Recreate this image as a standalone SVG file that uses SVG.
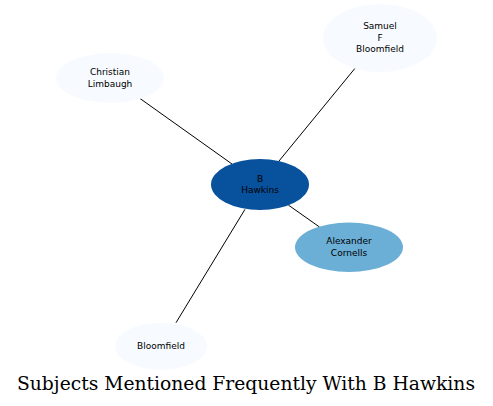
<svg xmlns="http://www.w3.org/2000/svg" width="493" height="406" viewBox="0 0 493 406">
<style>
.n text{font-family:"DejaVu Sans",sans-serif;font-size:9px;fill:#000;text-anchor:middle}
.e line{stroke:#000;stroke-width:1}
.title{font-family:"DejaVu Serif",serif;font-size:18px;fill:#000;text-anchor:middle}
</style>
<rect width="493" height="406" fill="#fff"/>
<g class="e" id="edges">
<line x1="140" y1="98.5" x2="232" y2="164"/>
<line x1="355" y1="68.3" x2="279" y2="161"/>
<line x1="288.3" y1="205" x2="319.5" y2="227"/>
<line x1="245" y1="209.3" x2="176" y2="322.7"/>
</g>
<g class="n" id="node-hawkins">
<ellipse cx="260" cy="184.5" rx="49" ry="25.5" fill="#08519c"/>
<text x="260" y="181.5">B</text>
<text x="260" y="193">Hawkins</text>
</g>
<g class="n" id="node-samuel">
<ellipse cx="380" cy="38" rx="57" ry="34" fill="#f7fbff"/>
<text x="380" y="29">Samuel</text>
<text x="380" y="40.5">F</text>
<text x="380" y="52">Bloomfield</text>
</g>
<g class="n" id="node-christian">
<ellipse cx="110" cy="78" rx="54" ry="25" fill="#f7fbff"/>
<text x="110" y="75">Christian</text>
<text x="110" y="86.5">Limbaugh</text>
</g>
<g class="n" id="node-alexander">
<ellipse cx="349" cy="247.3" rx="54" ry="24.7" fill="#6baed6"/>
<text x="349" y="244">Alexander</text>
<text x="349" y="255.5">Cornells</text>
</g>
<g class="n" id="node-bloomfield">
<ellipse cx="161" cy="346.3" rx="46" ry="23.5" fill="#f7fbff"/>
<text x="161" y="349">Bloomfield</text>
</g>
<text class="title" x="246" y="390" textLength="458" lengthAdjust="spacingAndGlyphs">Subjects Mentioned Frequently With B Hawkins</text>
</svg>
